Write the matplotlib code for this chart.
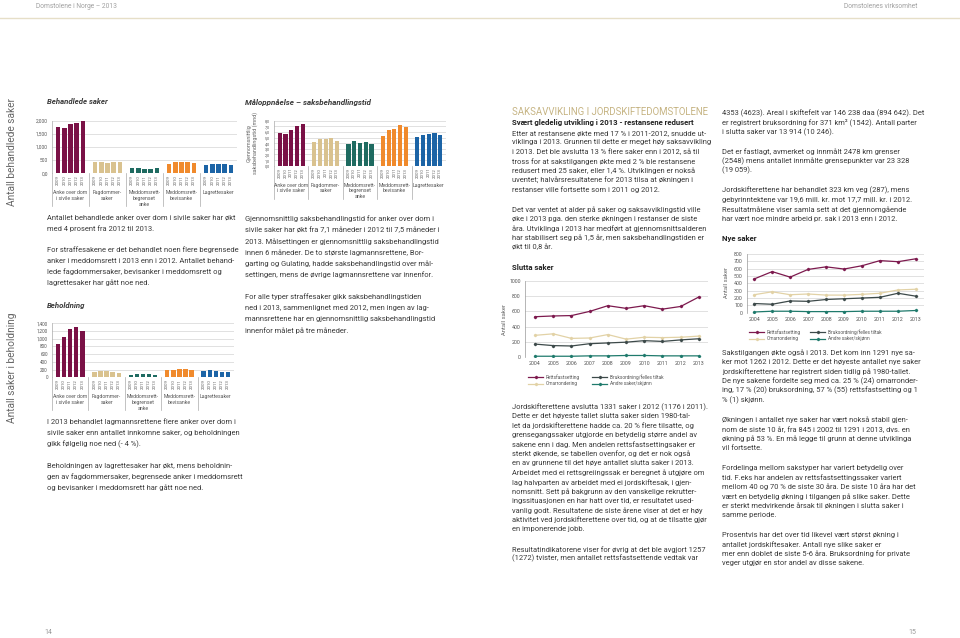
import matplotlib
matplotlib.use("Agg")
import matplotlib.pyplot as plt
from matplotlib.lines import Line2D

plt.rcParams['font.family'] = ['Roboto', 'DejaVu Sans']

W, H = 960, 638
TXT = '#3a3a3a'
GREY = '#666666'
BODY = 5.45

# bar charts (lagmannsrettene)
years_bar = ["2009", "2010", "2011", "2012", "2013"]
groups = ["Anke over dom\ni sivile saker", "Fagdommer-\nsaker", "Meddomsrett-\nbegrenset\nanke",
          "Meddomsrett-\nbevisanke", "Lagrettesaker"]
group_colors = ["#7a1146", "#d9c28f", "#1f6b61", "#f08a2c", "#1c64a6"]

behandlede_anke = [1770, 1720, 1870, 1920, 2000]
behandlede_fagdommer = [420, 420, 380, 440, 420]
behandlede_begrenset = [200, 210, 180, 170, 190]
behandlede_bevisanke = [340, 420, 420, 430, 410]
behandlede_lagrette = [320, 340, 370, 360, 300]

beholdning_anke = [860, 1040, 1260, 1300, 1210]
beholdning_fagdommer = [150, 160, 160, 130, 100]
beholdning_begrenset = [70, 80, 80, 80, 60]
beholdning_bevisanke = [190, 200, 210, 210, 180]
beholdning_lagrette = [170, 180, 160, 130, 150]

tid_anke = [5.8, 5.6, 6.4, 7.1, 7.5]
tid_fagdommer = [4.3, 4.7, 4.7, 5.0, 4.4]
tid_begrenset = [3.9, 4.4, 4.1, 4.2, 3.8]
tid_bevisanke = [5.3, 6.4, 6.6, 7.3, 6.9]
tid_lagrette = [5.1, 5.5, 5.7, 5.8, 5.4]

# line charts (jordskifterettene)
years_line = [2004, 2005, 2006, 2007, 2008, 2009, 2010, 2011, 2012, 2013]
line_labels = ["Rettsfastsetting", "Omarrondering", "Bruksordning/felles tiltak", "Andre saker/skjønn"]
line_colors = ["#7d1a4e", "#e2d2a6", "#3d4a4a", "#1f7a6c"]

slutta_retts = [530, 540, 545, 600, 675, 640, 675, 630, 665, 790]
slutta_omarr = [285, 305, 245, 250, 295, 235, 260, 255, 260, 275]
slutta_bruks = [170, 150, 145, 175, 185, 195, 215, 205, 225, 240]
slutta_andre = [10, 10, 10, 15, 15, 20, 20, 15, 15, 15]

nye_retts = [460, 560, 485, 590, 625, 595, 640, 710, 695, 735]
nye_omarr = [245, 285, 245, 255, 240, 240, 250, 265, 310, 320]
nye_bruks = [125, 115, 160, 155, 180, 190, 200, 210, 265, 225]
nye_andre = [10, 20, 20, 15, 15, 15, 20, 20, 20, 30]

fig = plt.figure(figsize=(9.6, 6.38), dpi=100)


def px_axes(l, t, r, b):
    return fig.add_axes([l / W, 1 - b / H, (r - l) / W, (b - t) / H])


def ftext(x, y, s, **kw):
    kw.setdefault('color', TXT)
    kw.setdefault('va', 'center')
    return fig.text(x / W, 1 - y / H, s, **kw)


def put_lines(x, y, lines, dy, gap, size=BODY):
    for ln in lines:
        if ln == "":
            y += gap - dy
            continue
        ftext(x, y, ln, fontsize=size)
        y += dy


def bar_panel(box, data, ymax, yticks, ylabels, ysize=3.5):
    l, t, r, b = box
    ax = px_axes(l, t, r, b)
    hpx = b - t
    xt = ax.get_xaxis_transform()
    for g, vals in enumerate(data):
        xs = [6 * g + 1 + j for j in range(5)]
        ax.bar(xs, vals, width=0.72, color=group_colors[g], zorder=3)
        for x, yr in zip(xs, years_bar):
            ax.text(x, -2.0 / hpx, yr, transform=xt, rotation=90, ha='center', va='top',
                    fontsize=3.2, color=GREY)
        ax.text(6 * g + 3, -17.0 / hpx, groups[g], transform=xt, ha='center', va='top',
                fontsize=3.7, color='#555555', linespacing=1.15)
    for xs in [0, 6, 12, 18, 24]:
        ax.add_line(Line2D([xs, xs], [0, -33.0 / hpx], transform=xt, color='#aaaaaa',
                           lw=0.5, clip_on=False))
    ax.set_xlim(0, 30)
    ax.set_ylim(0, ymax)
    ax.set_yticks(yticks)
    ax.set_yticklabels(ylabels)
    ax.set_xticks([])
    ax.tick_params(axis='y', length=0, labelsize=ysize, labelcolor='#555555', pad=3)
    for s in ['top', 'right', 'bottom']:
        ax.spines[s].set_visible(False)
    ax.spines['left'].set_color('#aaaaaa')
    ax.spines['left'].set_linewidth(0.5)
    ax.grid(axis='y', color='#d5d5d5', lw=0.5)
    ax.set_axisbelow(True)
    return ax


def line_panel(box, data, xlim, ymax, ystep, leg_y, leg_x1, leg_x2):
    l, t, r, b = box
    ax = px_axes(l, t, r, b)
    for vals, c in zip(data, line_colors):
        ax.plot(years_line, vals, color=c, lw=0.9, marker='D', ms=1.2, zorder=3)
    ax.set_xlim(*xlim)
    ax.set_ylim(0, ymax)
    ax.set_xticks(years_line)
    ax.set_yticks(range(0, ymax + 1, ystep))
    ax.tick_params(length=0, labelsize=3.8, labelcolor='#555555', pad=3)
    for s in ['top', 'right', 'bottom']:
        ax.spines[s].set_visible(False)
    ax.spines['left'].set_color('#999999')
    ax.spines['left'].set_linewidth(0.5)
    ax.grid(axis='y', color='#d5d5d5', lw=0.5)
    ax.set_axisbelow(True)
    # legend drawn by hand, two columns
    spots = [(leg_x1, leg_y), (leg_x1, leg_y + 6.5), (leg_x2, leg_y), (leg_x2, leg_y + 6.5)]
    for (x, y), c, lab in zip(spots, line_colors, line_labels):
        fig.add_artist(Line2D([x / W, (x + 15) / W], [1 - y / H, 1 - y / H], color=c, lw=0.9))
        fig.add_artist(Line2D([(x + 7.5) / W], [1 - y / H], color=c, marker='D', ms=1.2))
        ftext(x + 18, y, lab, fontsize=3.4, color='#555555')
    return ax


# header / footer
fig.add_artist(Line2D([0, 1], [1 - 17.5 / H, 1 - 17.5 / H], color='#e6dfc8', lw=1.0))
ftext(36, 6, "Domstolene i Norge – 2013", fontsize=4.8, color='#a0a0a0')
ftext(917, 6, "Domstolenes virksomhet", fontsize=4.8, color='#a0a0a0', ha='right')
ftext(44, 632, "14", fontsize=5, color='#999999')
ftext(916, 632, "15", fontsize=5, color='#999999', ha='right')

# ---- left page ----
ftext(12, 152, "Antall behandlede saker", fontsize=7.3, color=GREY, rotation=90, ha='center')
ftext(12, 368, "Antall saker i beholdning", fontsize=7.3, color=GREY, rotation=90, ha='center')

ftext(47, 102, "Behandlede saker", fontsize=5.6, fontweight='bold', style='italic')
bar_panel((52, 120.7, 237, 173.3),
          [behandlede_anke, behandlede_fagdommer, behandlede_begrenset, behandlede_bevisanke, behandlede_lagrette],
          2000, [0, 500, 1000, 1500, 2000], ["0,0", "500", "1,000", "1,500", "2,000"])

put_lines(47, 218, [
    "Antallet behandlede anker over dom i sivile saker har økt",
    "med 4 prosent fra 2012 til 2013.",
    "",
    "For straffesakene er det behandlet noen flere begrensede",
    "anker i meddomsrett i 2013 enn i 2012. Antallet behand-",
    "lede fagdommersaker, bevisanker i meddomsrett og",
    "lagrettesaker har gått noe ned.",
], 11, 21)

ftext(47, 306, "Beholdning", fontsize=5.6, fontweight='bold', style='italic')
bar_panel((52, 323.3, 234, 377.3),
          [beholdning_anke, beholdning_fagdommer, beholdning_begrenset, beholdning_bevisanke, beholdning_lagrette],
          1400, list(range(0, 1401, 200)),
          ["0", "200", "400", "600", "800", "1,000", "1,200", "1,400"], ysize=3.3)

put_lines(47, 422, [
    "I 2013 behandlet lagmannsrettene flere anker over dom i",
    "sivile saker enn antallet innkomne saker, og beholdningen",
    "gikk følgelig noe ned (- 4 %).",
    "",
    "Beholdningen av lagrettesaker har økt, mens beholdnin-",
    "gen av fagdommersaker, begrensede anker i meddomsrett",
    "og bevisanker i meddomsrett har gått noe ned.",
], 11, 22)

ftext(245, 102, "Måloppnåelse – saksbehandlingstid", fontsize=5.8, fontweight='bold', style='italic')
ftext(252, 143, "Gjennomsnittlig\nsaksbehandlingstid (mnd)", fontsize=3.9, color=GREY,
      rotation=90, ha='center', linespacing=1.2)
bar_panel((274, 120.7, 446, 165.7),
          [tid_anke, tid_fagdommer, tid_begrenset, tid_bevisanke, tid_lagrette],
          8, list(range(0, 9)), ["%d,0" % v for v in range(0, 9)], ysize=2.8)

put_lines(245, 219, [
    "Gjennomsnittlig saksbehandlingstid for anker over dom i",
    "sivile saker har økt fra 7,1 måneder i 2012 til 7,5 måneder i",
    "2013. Målsettingen er gjennomsnittlig saksbehandlingstid",
    "innen 6 måneder. De to største lagmannsrettene, Bor-",
    "garting og Gulating, hadde saksbehandlingstid over mål-",
    "settingen, mens de øvrige lagmannsrettene var innenfor.",
    "",
    "For alle typer straffesaker gikk saksbehandlingstiden",
    "ned i 2013, sammenlignet med 2012, men ingen av lag-",
    "mannsrettene har en gjennomsnittlig saksbehandlingstid",
    "innenfor målet på tre måneder.",
], 11.2, 22)

# ---- right page ----
ftext(512, 112, "SAKSAVVIKLING I JORDSKIFTEDOMSTOLENE", fontsize=6.9, color='#c6b483')
ftext(512, 122.5, "Svært gledelig utvikling i 2013 - restansene redusert", fontsize=5.6,
      fontweight='bold', color='#222222')
put_lines(512, 133, [
    "Etter at restansene økte med 17 % i 2011-2012, snudde ut-",
    "viklinga i 2013. Grunnen til dette er meget høy saksavvikling",
    "i 2013. Det ble avslutta 13 % flere saker enn i 2012, så til",
    "tross for at sakstilgangen økte med 2 % ble restansene",
    "redusert med 25 saker, eller 1,4 %. Utviklingen er nokså",
    "uventet; halvårsresultatene for 2013 tilsa at økningen i",
    "restanser ville fortsette som i 2011 og 2012.",
    "",
    "Det var ventet at alder på saker og saksavviklingstid ville",
    "øke i 2013 pga. den sterke økningen i restanser de siste",
    "åra. Utviklinga i 2013 har medført at gjennomsnittsalderen",
    "har stabilisert seg på 1,5 år, men saksbehandlingstiden er",
    "økt til 0,8 år.",
], 9.4, 20)

ftext(512, 267, "Slutta saker", fontsize=5.6, fontweight='bold', color='#222222')
ftext(505, 320, "Antall saker", fontsize=4.2, color=GREY, rotation=90, ha='center')
line_panel((525, 281, 708, 357), [slutta_retts, slutta_omarr, slutta_bruks, slutta_andre],
           (2003.45, 2013.5), 1000, 200, 377, 528, 592)

put_lines(512, 407, [
    "Jordskifterettene avslutta 1331 saker i 2012 (1176 i 2011).",
    "Dette er det høyeste tallet slutta saker siden 1980-tal-",
    "let da jordskifterettene hadde ca. 20 % flere tilsatte, og",
    "grensegangssaker utgjorde en betydelig større andel av",
    "sakene enn i dag. Men andelen rettsfastsettingsaker er",
    "sterkt økende, se tabellen ovenfor, og det er nok også",
    "en av grunnene til det høye antallet slutta saker i 2013.",
    "Arbeidet med ei rettsgreiingssak er beregnet å utgjøre om",
    "lag halvparten av arbeidet med ei jordskiftesak, i gjen-",
    "nomsnitt. Sett på bakgrunn av den vanskelige rekrutter-",
    "ingssituasjonen en har hatt over tid, er resultatet used-",
    "vanlig godt. Resultatene de siste årene viser at det er høy",
    "aktivitet ved jordskifterettene over tid, og at de tilsatte gjør",
    "en imponerende jobb.",
    "",
    "Resultatindikatorene viser for øvrig at det ble avgjort 1257",
    "(1272) tvister, men antallet rettsfastsettende vedtak var",
], 9.4, 20)

put_lines(722, 113, [
    "4353 (4623). Areal i skiftefelt var 146 238 daa (894 642). Det",
    "er registrert bruksordning for 371 km² (1542). Antall parter",
    "i slutta saker var 13 914 (10 246).",
    "",
    "Det er fastlagt, avmerket og innmålt 2478 km grenser",
    "(2548) mens antallet innmålte grensepunkter var 23 328",
    "(19 059).",
    "",
    "Jordskifterettene har behandlet 323 km veg (287), mens",
    "gebyrinntektene var 19,6 mill. kr. mot 17,7 mill. kr. i 2012.",
    "Resultatmålene viser samla sett at det gjennomgående",
    "har vært noe mindre arbeid pr. sak i 2013 enn i 2012.",
], 9.4, 20)

ftext(722, 238, "Nye saker", fontsize=5.6, fontweight='bold', color='#222222')
ftext(727, 283, "Antall saker", fontsize=4.2, color=GREY, rotation=90, ha='center')
line_panel((747, 254, 924, 312.7), [nye_retts, nye_omarr, nye_bruks, nye_andre],
           (2003.6, 2013.45), 800, 100, 332, 749, 810)

put_lines(722, 353, [
    "Sakstilgangen økte også i 2013. Det kom inn 1291 nye sa-",
    "ker mot 1262 i 2012. Dette er det høyeste antallet nye saker",
    "jordskifterettene har registrert siden tidlig på 1980-tallet.",
    "De nye sakene fordelte seg med ca. 25 % (24) omarronder-",
    "ing, 17 % (20) bruksordning, 57 % (55) rettsfastsetting og 1",
    "% (1) skjønn.",
    "",
    "Økningen i antallet nye saker har vært nokså stabil gjen-",
    "nom de siste 10 år, fra 845 i 2002 til 1291 i 2013, dvs. en",
    "økning på 53 %. En må legge til grunn at denne utviklinga",
    "vil fortsette.",
    "",
    "Fordelinga mellom sakstyper har variert betydelig over",
    "tid. F.eks har andelen av rettsfastsettingssaker variert",
    "mellom 40 og 70 % de siste 30 åra. De siste 10 åra har det",
    "vært en betydelig økning i tilgangen på slike saker. Dette",
    "er sterkt medvirkende årsak til økningen i slutta saker i",
    "samme periode.",
    "",
    "Prosentvis har det over tid likevel vært størst økning i",
    "antallet jordskiftesaker. Antall nye slike saker er",
    "mer enn doblet de siste 5-6 åra. Bruksordning for private",
    "veger utgjør en stor andel av disse sakene.",
], 9.4, 20)

fig.savefig("out.png", dpi=100)
